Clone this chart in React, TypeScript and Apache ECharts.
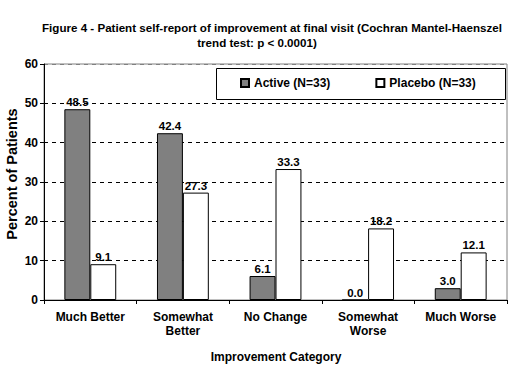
import React, { useEffect, useRef } from "react";
import * as echarts from "echarts";

const categories = ["Much Better", "Somewhat\nBetter", "No Change", "Somewhat\nWorse", "Much Worse"];
const activeValues = [48.5, 42.4, 6.1, 0.0, 3.0];
const placeboValues = [9.1, 27.3, 33.3, 18.2, 12.1];
const seriesNames = ["Active (N=33)", "Placebo (N=33)"];
const titleLine1 = "Figure 4 - Patient self-report of improvement at final visit (Cochran Mantel-Haenszel";
const titleLine2 = "trend test: p < 0.0001)";
const yAxisTitle = "Percent of Patients";
const xAxisTitle = "Improvement Category";

const FONT = "'Liberation Sans', Arial, sans-serif";

export default function App() {
  const ref = useRef<HTMLDivElement>(null);
  useEffect(() => {
    if (!ref.current) return;
    const chart = echarts.init(ref.current, undefined, { renderer: "svg" });
    const labelStyle = {
      show: true,
      position: "top" as const,
      distance: 1,
      fontFamily: FONT,
      fontSize: 11.5,
      fontWeight: "bold" as const,
      color: "#000",
      formatter: (p: any) => Number(p.value).toFixed(1),
    };
    const txt = (text: string, x: number, y: number, font: string, rotation = 0) => ({
      type: "text",
      x,
      y,
      rotation,
      style: { text, font, fill: "#000", textAlign: "center", textVerticalAlign: "middle" },
    });
    chart.setOption({
      animation: false,
      backgroundColor: "#fff",
      textStyle: { fontFamily: FONT },
      graphic: [
        txt(titleLine1, 272, 27, `bold 11.6px ${FONT}`),
        txt(titleLine2, 257, 42, `bold 11.6px ${FONT}`),
        txt(yAxisTitle, 12, 174, `bold 14.5px ${FONT}`, Math.PI / 2),
        txt(xAxisTitle, 276, 357, `bold 12px ${FONT}`),
        {
          type: "rect",
          shape: { x: 216.5, y: 68.5, width: 289, height: 31 },
          style: { fill: "#fff", stroke: "#000", lineWidth: 1 },
          z: 50,
        },
      ],
      legend: {
        left: 240,
        top: 77,
        padding: 0,
        itemGap: 45,
        itemWidth: 8,
        itemHeight: 8,
        itemTextGap: 3,
        z: 60,
        icon: "rect",
        textStyle: { fontFamily: FONT, fontSize: 12, fontWeight: "bold", color: "#000" },
        data: seriesNames,
      },
      grid: {
        left: 44,
        right: 13,
        top: 64,
        bottom: 78,
        outerBoundsMode: "none",
        containLabel: false,
        show: true,
        borderColor: "#808080",
        borderWidth: 1,
        backgroundColor: "transparent",
      },
      xAxis: {
        type: "category",
        data: categories,
        axisLine: { show: true, lineStyle: { color: "#000", width: 1 } },
        axisTick: { show: true, alignWithLabel: false, length: 4, lineStyle: { color: "#000" } },
        axisLabel: {
          fontFamily: FONT,
          fontSize: 12,
          fontWeight: "bold",
          color: "#000",
          margin: 10,
          lineHeight: 14,
          interval: 0,
        },
      },
      yAxis: {
        type: "value",
        min: 0,
        max: 60,
        interval: 10,
        axisLine: { show: true, lineStyle: { color: "#000", width: 1 } },
        axisTick: { show: true, length: 4, lineStyle: { color: "#000" } },
        axisLabel: { fontFamily: FONT, fontSize: 12, fontWeight: "bold", color: "#000", margin: 6 },
        splitLine: {
          show: true,
          lineStyle: {
            color: ["#000", "#000", "#000", "#000", "#000", "#000", "#808080"],
            type: [4, 4],
            width: 1,
          },
        },
      },
      series: [
        {
          name: seriesNames[0],
          type: "bar",
          data: activeValues,
          barWidth: "28%",
          barGap: "0%",
          itemStyle: { color: "#808080", borderColor: "#000", borderWidth: 1 },
          label: labelStyle,
        },
        {
          name: seriesNames[1],
          type: "bar",
          data: placeboValues,
          barWidth: "28%",
          barGap: "0%",
          itemStyle: { color: "#fff", borderColor: "#000", borderWidth: 1 },
          label: labelStyle,
        },
      ],
    });
    return () => chart.dispose();
  }, []);
  return (
    <div
      ref={ref}
      style={{ position: "absolute", left: 0, top: 0, width: 520, height: 378, background: "#fff" }}
    />
  );
}
